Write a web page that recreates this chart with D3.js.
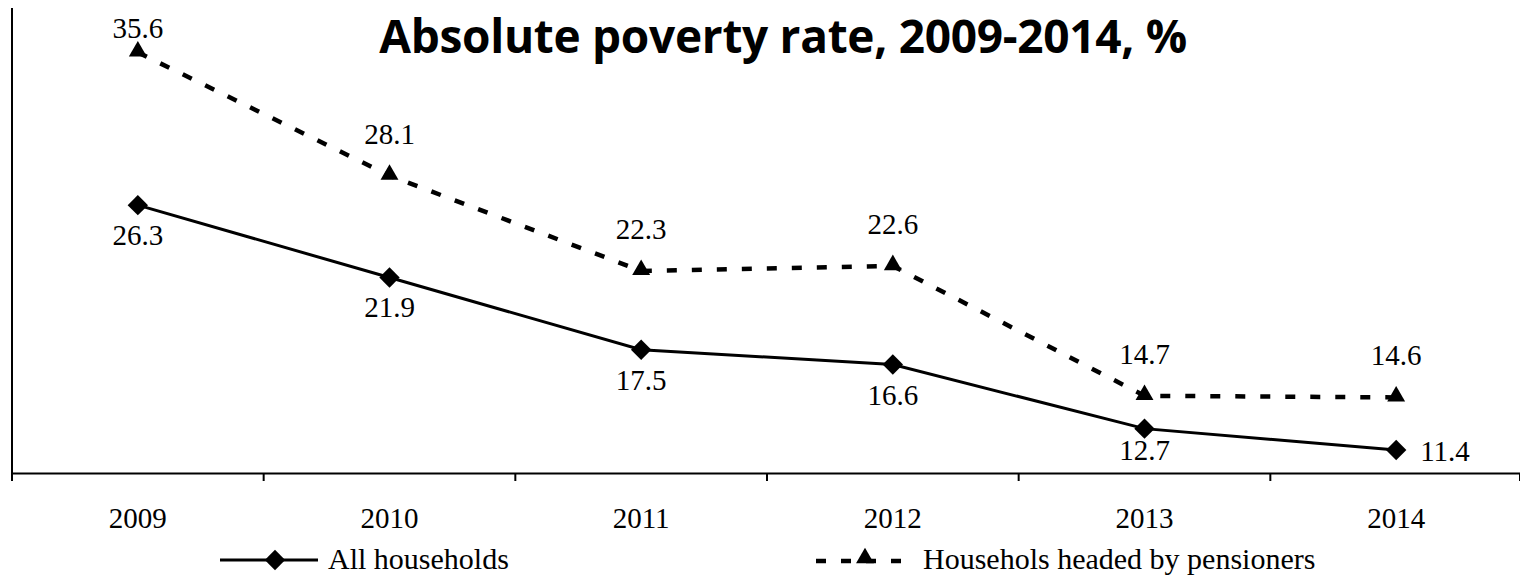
<!DOCTYPE html>
<html>
<head>
<meta charset="utf-8">
<script src="https://cdn.jsdelivr.net/npm/d3@7"></script>
<style>
  body { margin: 0; background: #fff; }
  svg { display: block; }
</style>
</head>
<body>
<svg id="chart" width="1520" height="576"></svg>
<script>
const years = ["2009", "2010", "2011", "2012", "2013", "2014"];
const allHouseholds = [26.3, 21.9, 17.5, 16.6, 12.7, 11.4];
const pensioners = [35.6, 28.1, 22.3, 22.6, 14.7, 14.6];

const svg = d3.select("#chart");
const serif = "'Liberation Serif', 'Times New Roman', serif";

const x = d3.scaleBand().domain(years).range([12, 1522]);
const y = d3.scaleLinear().domain([10, 38.3]).range([473, 8]);
const cx = d => x(d) + x.bandwidth() / 2;

// axes
svg.append("line")
  .attr("x1", 12).attr("x2", 12)
  .attr("y1", 8).attr("y2", 473)
  .attr("stroke", "#000").attr("stroke-width", 2);

const xAxis = svg.append("g")
  .attr("transform", "translate(0,473)")
  .call(d3.axisBottom(x).tickSize(0).tickPadding(34));
xAxis.select(".domain").attr("stroke-width", 2);
xAxis.selectAll("text")
  .style("font-family", serif)
  .style("font-size", "29px")
  .attr("fill", "#000");

const bounds = x.domain().map(d => x(d)).concat([x.range()[1] - 2]);
svg.append("g").selectAll("line")
  .data(bounds)
  .join("line")
  .attr("x1", d => d).attr("x2", d => d)
  .attr("y1", 473).attr("y2", 481)
  .attr("stroke", "#000").attr("stroke-width", 2);

// title
svg.append("text")
  .attr("x", 783).attr("y", 53)
  .attr("text-anchor", "middle")
  .style("font-family", "'Open Sans', sans-serif")
  .style("font-weight", "bold")
  .style("font-size", "46px")
  .style("letter-spacing", "-0.3px")
  .text("Absolute poverty rate, 2009-2014, %");

const line = d3.line()
  .x((d, i) => cx(years[i]))
  .y(d => y(d));

const diamond = d3.symbol().type(d3.symbolDiamond2).size(265);
const triangle = d3.symbol().type(d3.symbolTriangle2).size(230);

// pensioners (dashed)
svg.append("path")
  .datum(pensioners)
  .attr("d", line)
  .attr("fill", "none")
  .attr("stroke", "#000")
  .attr("stroke-width", 4.5)
  .attr("stroke-dasharray", "10,15");

svg.append("g").selectAll("path")
  .data(pensioners)
  .join("path")
  .attr("d", triangle)
  .attr("transform", (d, i) => `translate(${cx(years[i])},${y(d) - 1})`)
  .attr("fill", "#000");

svg.append("g").selectAll("text")
  .data(pensioners)
  .join("text")
  .attr("x", (d, i) => cx(years[i]))
  .attr("y", d => Math.max(y(d) - 32, 38))
  .attr("text-anchor", "middle")
  .style("font-family", serif)
  .style("font-size", "29px")
  .text(d => d.toFixed(1));

// all households (solid)
svg.append("path")
  .datum(allHouseholds)
  .attr("d", line)
  .attr("fill", "none")
  .attr("stroke", "#000")
  .attr("stroke-width", 3);

svg.append("g").selectAll("path")
  .data(allHouseholds)
  .join("path")
  .attr("d", diamond)
  .attr("transform", (d, i) => `translate(${cx(years[i])},${y(d)})`)
  .attr("fill", "#000");

const last = years.length - 1;
svg.append("g").selectAll("text")
  .data(allHouseholds)
  .join("text")
  .attr("x", (d, i) => i === last ? cx(years[i]) + 24 : cx(years[i]))
  .attr("y", (d, i) => i === last ? y(d) + 11 : Math.min(y(d) + 40, 460))
  .attr("text-anchor", (d, i) => i === last ? "start" : "middle")
  .style("font-family", serif)
  .style("font-size", "29px")
  .text(d => d.toFixed(1));

// legend
const legend = svg.append("g");
legend.append("line")
  .attr("x1", 220).attr("x2", 318)
  .attr("y1", 560).attr("y2", 560)
  .attr("stroke", "#000").attr("stroke-width", 3);
legend.append("path")
  .attr("d", diamond)
  .attr("transform", "translate(275,560)");
legend.append("text")
  .attr("x", 328).attr("y", 569)
  .style("font-family", serif)
  .style("font-size", "30px")
  .text("All households");

legend.append("line")
  .attr("x1", 816).attr("x2", 913)
  .attr("y1", 561).attr("y2", 561)
  .attr("stroke", "#000").attr("stroke-width", 4.5)
  .attr("stroke-dasharray", "10,15");
legend.append("path")
  .attr("d", triangle)
  .attr("transform", "translate(865,558)");
legend.append("text")
  .attr("x", 923).attr("y", 569)
  .style("font-family", serif)
  .style("font-size", "30px")
  .text("Househols headed by pensioners");
</script>
</body>
</html>
